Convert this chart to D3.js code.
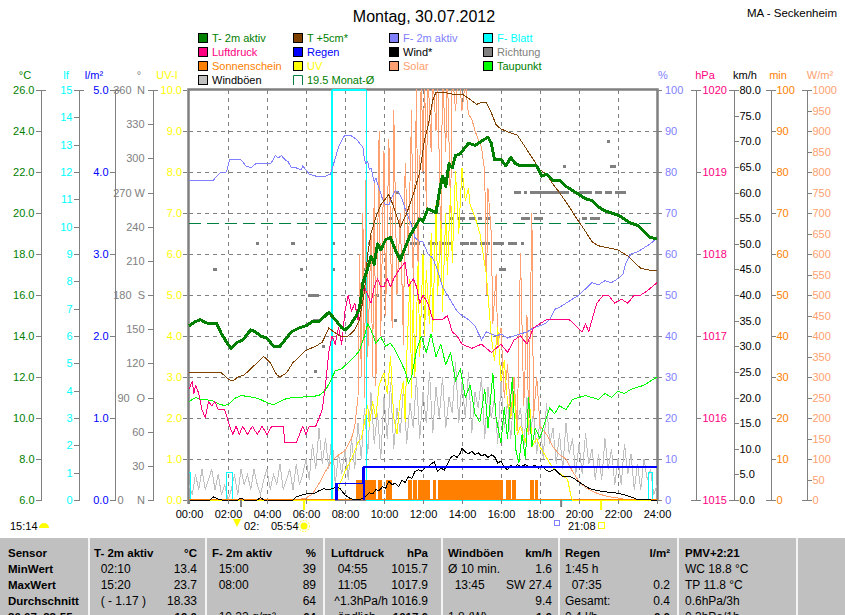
<!DOCTYPE html>
<html>
<head>
<meta charset="utf-8">
<script src="https://cdn.jsdelivr.net/npm/d3@7"></script>
<style>
  body { margin: 0; background: #fff; }
  svg { display: block; font-family: "Liberation Sans", Arial, sans-serif; }
  .pre { white-space: pre; }
</style>
</head>
<body>
<div id="chart"></div>
<script>
// ---- data ----
const chartTitle = 'Montag, 30.07.2012';
const stationName = 'MA - Seckenheim';
const monthAverage = 19.5;

const temp2m = [
  ['00:00', 14.5], ['00:20', 14.7], ['00:35', 14.8], ['00:45', 14.7], ['01:00', 14.6], ['01:25', 14.6],
  ['01:40', 14.1], ['02:00', 13.6], ['02:10', 13.4], ['02:30', 13.7], ['02:45', 13.8], ['03:00', 14.1],
  ['03:10', 14.3], ['03:25', 14.2], ['03:40', 14.0], ['04:00', 13.9], ['04:20', 13.5], ['04:40', 13.5],
  ['05:00', 13.9], ['05:15', 14.2], ['05:40', 14.4], ['06:00', 14.5], ['06:20', 14.7], ['06:40', 14.7],
  ['07:00', 15.0], ['07:10', 15.15], ['07:30', 14.8], ['07:50', 14.4], ['08:00', 14.3], ['08:15', 14.5],
  ['08:35', 15.0], ['08:45', 15.4], ['08:55', 16.6], ['09:10', 17.3], ['09:20', 17.9], ['09:30', 17.5],
  ['09:40', 18.5], ['09:50', 18.2], ['10:05', 18.7], ['10:20', 18.8], ['10:35', 18.2], ['10:50', 17.7],
  ['11:05', 18.3], ['11:20', 18.9], ['11:35', 19.3], ['11:50', 19.7], ['12:00', 19.6], ['12:15', 20.2],
  ['12:30', 20.1], ['12:40', 20.0], ['12:50', 21.0], ['13:00', 21.8], ['13:10', 21.3], ['13:20', 22.4],
  ['13:30', 22.2], ['13:40', 22.8], ['13:55', 22.9], ['14:10', 23.2], ['14:20', 23.4], ['14:40', 23.3],
  ['15:00', 23.5], ['15:20', 23.7], ['15:30', 23.4], ['15:40', 22.6], ['16:00', 22.6], ['16:15', 22.3],
  ['16:30', 22.7], ['16:45', 22.4], ['17:00', 22.3], ['17:30', 22.3], ['17:50', 22.3], ['18:05', 21.8],
  ['18:20', 21.9], ['18:40', 21.6], ['19:00', 21.6], ['19:20', 21.3], ['19:40', 21.1], ['20:00', 20.9],
  ['20:20', 20.7], ['20:40', 20.6], ['21:00', 20.3], ['21:20', 20.1], ['21:40', 20.0], ['22:00', 19.9],
  ['22:20', 19.7], ['22:40', 19.5], ['23:00', 19.4], ['23:20', 19.1], ['23:40', 18.8], ['24:00', 18.75]
];

const temp5cm = [
  ['00:00', 12.2], ['01:40', 12.2], ['02:00', 11.9], ['02:15', 11.8], ['02:30', 12.0], ['02:50', 12.1],
  ['03:10', 12.4], ['03:30', 12.7], ['03:50', 13.0], ['04:10', 12.7], ['04:30', 12.1], ['04:40', 12.0],
  ['05:00', 12.2], ['05:20', 12.7], ['05:40', 13.0], ['06:00', 13.3], ['06:30', 13.5], ['06:50', 13.7],
  ['07:05', 14.2], ['07:10', 14.4], ['07:25', 14.2], ['07:45', 14.0], ['08:10', 14.0], ['08:30', 14.3],
  ['08:45', 14.8], ['09:00', 16.2], ['09:10', 18.0], ['09:20', 19.0], ['09:35', 19.8], ['09:50', 20.4],
  ['10:15', 20.9], ['10:30', 20.3], ['10:50', 19.3], ['11:10', 20.0], ['11:30', 20.9], ['11:50', 22.0],
  ['12:05', 23.6], ['12:15', 24.2], ['12:30', 25.5], ['12:40', 25.9], ['13:00', 25.9], ['13:30', 25.8],
  ['14:00', 25.8], ['14:20', 25.6], ['14:45', 25.3], ['15:00', 25.4], ['15:15', 25.4], ['15:30', 24.9],
  ['15:45', 24.3], ['16:00', 24.1], ['16:30', 23.9], ['16:50', 23.8], ['17:15', 23.2], ['17:40', 22.6],
  ['18:00', 22.1], ['18:20', 21.9], ['18:40', 21.4], ['19:00', 21.0], ['19:30', 20.3], ['19:50', 19.8],
  ['20:20', 19.1], ['20:40', 18.6], ['21:00', 18.4], ['21:30', 18.3], ['22:00', 18.2], ['22:30', 17.9],
  ['22:50', 17.6], ['23:10', 17.3], ['23:40', 17.2], ['24:00', 17.2]
];

const humidity = [
  ['00:00', 78], ['01:15', 78], ['01:25', 79], ['01:40', 80], ['01:55', 80], ['02:05', 83], ['02:40', 83],
  ['02:55', 81.5], ['03:10', 81], ['03:25', 82], ['03:40', 82], ['04:10', 82], ['04:20', 83], ['04:25', 84],
  ['04:35', 83.5], ['04:45', 84], ['04:55', 83], ['05:05', 82.5], ['05:15', 81], ['05:30', 81], ['05:45', 80.5],
  ['05:50', 81.5], ['06:00', 80.5], ['06:10', 79.5], ['06:30', 79], ['07:00', 79], ['07:15', 79.5],
  ['07:25', 82], ['07:40', 86], ['07:55', 88.5], ['08:00', 89], ['08:20', 88.8], ['08:35', 88], ['08:45', 87],
  ['08:55', 86], ['09:00', 83], ['09:05', 82], ['09:10', 82.5], ['09:15', 80.5], ['09:20', 81], ['09:30', 77.5],
  ['09:35', 78.5], ['09:45', 76], ['09:55', 73.5], ['10:05', 72], ['10:15', 72], ['10:25', 74], ['10:35', 75.5],
  ['10:45', 75], ['10:55', 73.5], ['11:05', 71], ['11:15', 69], ['11:25', 67], ['11:35', 64], ['11:50', 63],
  ['12:00', 63], ['12:15', 60], ['12:30', 59], ['12:45', 56], ['13:00', 52], ['13:15', 50], ['13:30', 48],
  ['13:45', 46], ['14:00', 45], ['14:20', 44], ['14:40', 42.5], ['15:00', 39], ['15:15', 41], ['15:30', 40.5],
  ['15:45', 40], ['16:00', 40.5], ['16:20', 39.5], ['16:40', 40], ['17:00', 40.5], ['17:20', 41], ['17:40', 42],
  ['18:00', 42.5], ['18:15', 43], ['18:30', 44], ['18:45', 46.5], ['19:00', 47], ['19:20', 48], ['19:40', 49],
  ['20:00', 50], ['20:20', 51.5], ['20:40', 53], ['21:00', 52.5], ['21:20', 53.5], ['21:40', 53], ['22:00', 54],
  ['22:15', 55], ['22:25', 58], ['22:40', 60], ['23:00', 60.5], ['23:20', 61.5], ['23:40', 62.5], ['24:00', 64]
];

const pressure = [
  ['00:00', 1016.35], ['00:10', 1016.45], ['00:15', 1016.3], ['00:20', 1016.4], ['00:30', 1016.3],
  ['00:40', 1016.1], ['00:50', 1016.0], ['01:00', 1016.2], ['01:10', 1016.15], ['01:20', 1016.2],
  ['01:30', 1016.1], ['01:50', 1016.1], ['02:05', 1015.9], ['02:15', 1015.8], ['02:25', 1015.9],
  ['02:35', 1015.8], ['02:45', 1015.9], ['03:00', 1015.8], ['03:15', 1015.9], ['03:30', 1015.8],
  ['03:45', 1015.9], ['04:00', 1015.8], ['04:15', 1015.9], ['04:30', 1015.9], ['04:50', 1015.9],
  ['04:55', 1015.7], ['05:30', 1015.7], ['05:40', 1015.8], ['05:50', 1015.9], ['06:00', 1015.8],
  ['06:10', 1015.9], ['06:30', 1015.9], ['06:50', 1016.1], ['07:00', 1016.4], ['07:10', 1016.8],
  ['07:20', 1017.0], ['07:30', 1016.9], ['07:40', 1017.1], ['07:50', 1016.9], ['08:00', 1017.3],
  ['08:10', 1017.5], ['08:20', 1017.3], ['08:30', 1017.4], ['08:40', 1017.2], ['08:50', 1017.5],
  ['09:00', 1017.6], ['09:10', 1017.5], ['09:20', 1017.4], ['09:30', 1017.6], ['09:40', 1017.7],
  ['09:50', 1017.6], ['10:00', 1017.6], ['10:10', 1017.7], ['10:20', 1017.6], ['10:30', 1017.7],
  ['10:45', 1017.8], ['11:05', 1017.9], ['11:15', 1017.6], ['11:30', 1017.7], ['11:40', 1017.6],
  ['11:50', 1017.4], ['12:00', 1017.5], ['12:15', 1017.4], ['12:30', 1017.2], ['12:45', 1017.2],
  ['13:00', 1017.2], ['13:15', 1017.25], ['13:30', 1017.05], ['13:45', 1017.0], ['14:00', 1016.9],
  ['14:30', 1016.85], ['15:00', 1016.9], ['15:30', 1016.8], ['16:00', 1016.9], ['16:20', 1016.8],
  ['16:40', 1016.95], ['17:00', 1017.0], ['17:20', 1016.9], ['17:40', 1017.1], ['18:00', 1017.15],
  ['18:20', 1017.2], ['19:00', 1017.2], ['19:30', 1017.2], ['20:10', 1017.05], ['20:20', 1017.15],
  ['20:30', 1017.05], ['20:40', 1017.2], ['20:55', 1017.4], ['21:15', 1017.5], ['21:30', 1017.5],
  ['21:50', 1017.4], ['22:10', 1017.45], ['22:30', 1017.4], ['22:50', 1017.5], ['23:10', 1017.5],
  ['23:30', 1017.55], ['23:45', 1017.6], ['24:00', 1017.65]
];

const dewPoint = [
  ['00:00', 10.8], ['00:20', 11.0], ['00:35', 10.9], ['00:50', 10.9], ['01:10', 10.85], ['01:30', 10.7],
  ['01:50', 10.6], ['02:05', 10.7], ['02:20', 10.95], ['02:40', 11.1], ['03:00', 11.05], ['03:20', 11.0],
  ['03:40', 10.9], ['04:00', 10.75], ['04:20', 10.65], ['04:40', 10.8], ['05:00', 10.95], ['05:20', 11.0],
  ['05:40', 11.0], ['06:00', 11.05], ['06:20', 11.05], ['06:40', 11.1], ['07:00', 11.35], ['07:15', 11.8],
  ['07:30', 12.3], ['07:50', 12.4], ['08:10', 12.7], ['08:30', 13.0], ['08:45', 13.3], ['09:00', 14.0],
  ['09:10', 14.6], ['09:20', 14.3], ['09:35', 13.65], ['09:50', 13.95], ['10:05', 13.5], ['10:20', 13.65],
  ['10:35', 13.3], ['10:50', 12.8], ['11:05', 12.3], ['11:15', 11.7], ['11:25', 12.0], ['11:40', 13.3],
  ['11:55', 14.0], ['12:10', 13.2], ['12:25', 14.1], ['12:40', 13.0], ['12:55', 13.6], ['13:10', 12.6],
  ['13:25', 13.2], ['13:40', 11.8], ['13:55', 12.4], ['14:10', 11.0], ['14:25', 11.6], ['14:40', 10.2],
  ['14:55', 9.8], ['15:10', 11.4], ['15:20', 9.5], ['15:35', 12.2], ['15:45', 10.0], ['16:00', 8.8],
  ['16:10', 10.5], ['16:20', 9.0], ['16:35', 12.0], ['16:45', 8.5], ['16:55', 7.8], ['17:05', 9.2],
  ['17:15', 8.0], ['17:25', 11.0], ['17:35', 8.6], ['17:45', 9.5], ['18:00', 9.0], ['18:15', 9.8],
  ['18:30', 10.5], ['18:45', 10.2], ['19:00', 10.6], ['19:20', 10.4], ['19:40', 10.9], ['20:00', 11.0],
  ['20:20', 11.1], ['20:40', 11.0], ['21:00', 10.9], ['21:20', 11.2], ['21:40', 11.0], ['22:00', 11.3],
  ['22:20', 11.2], ['22:40', 11.4], ['23:00', 11.5], ['23:20', 11.6], ['23:40', 11.8], ['24:00', 12.0]
];

const solar = [
  ['00:00', 0], ['05:30', 0], ['06:00', 5], ['06:20', 15], ['06:40', 40], ['07:00', 70], ['07:20', 95],
  ['07:40', 110], ['08:00', 120], ['08:10', 135], ['08:20', 150], ['08:30', 180], ['08:40', 250],
  ['08:45', 600], ['08:50', 300], ['08:55', 700], ['09:00', 250], ['09:05', 820], ['09:10', 350],
  ['09:20', 650], ['09:25', 300], ['09:30', 780], ['09:35', 280], ['09:45', 900], ['09:50', 400],
  ['10:00', 850], ['10:05', 450], ['10:15', 880], ['10:25', 420], ['10:30', 950], ['10:40', 500],
  ['10:50', 700], ['11:00', 380], ['11:05', 820], ['11:15', 600], ['11:25', 950], ['11:30', 500],
  ['11:40', 1000], ['11:45', 550], ['11:55', 1050], ['12:00', 800], ['12:05', 1050], ['12:10', 700],
  ['12:15', 1050], ['12:25', 850], ['12:30', 1050], ['12:40', 900], ['12:45', 1050], ['12:55', 600],
  ['13:00', 1050], ['13:10', 850], ['13:15', 1050], ['13:25', 700], ['13:30', 1050], ['13:40', 950],
  ['13:50', 1050], ['14:00', 950], ['14:10', 1020], ['14:20', 940], ['14:30', 930], ['14:40', 900],
  ['14:50', 880], ['15:00', 860], ['15:10', 800], ['15:15', 500], ['15:20', 760], ['15:30', 650],
  ['15:35', 430], ['15:45', 550], ['15:50', 380], ['16:00', 420], ['16:10', 250], ['16:20', 330],
  ['16:30', 200], ['16:40', 300], ['16:50', 170], ['17:00', 600], ['17:10', 230], ['17:20', 450],
  ['17:25', 160], ['17:35', 700], ['17:40', 200], ['17:50', 300], ['18:00', 180], ['18:20', 160],
  ['18:40', 130], ['19:00', 110], ['19:20', 100], ['19:40', 70], ['20:00', 45], ['20:20', 30],
  ['20:40', 22], ['21:00', 15], ['21:30', 8], ['22:00', 5], ['22:30', 0], ['24:00', 0]
];

const uvIndex = [
  ['00:00', 0], ['07:30', 0], ['07:45', 0.4], ['08:00', 0.7], ['08:20', 1.0], ['08:40', 1.4], ['08:50', 1.5],
  ['09:00', 1.9], ['09:10', 2.3], ['09:15', 1.8], ['09:25', 2.4], ['09:35', 2.0], ['09:45', 2.8], ['10:00', 3.1],
  ['10:10', 2.6], ['10:20', 3.5], ['10:30', 2.0], ['10:40', 1.6], ['10:50', 2.5], ['11:00', 2.9], ['11:05', 1.9],
  ['11:10', 3.5], ['11:20', 5.4], ['11:25', 2.5], ['11:30', 5.0], ['11:35', 3.0], ['11:45', 5.8], ['11:50', 3.5],
  ['12:00', 6.0], ['12:05', 4.0], ['12:10', 5.6], ['12:20', 4.3], ['12:25', 6.5], ['12:30', 4.1], ['12:40', 7.2],
  ['12:45', 5.0], ['12:55', 6.8], ['13:00', 4.6], ['13:10', 7.0], ['13:15', 5.5], ['13:25', 7.6], ['13:30', 5.8],
  ['13:40', 8.0], ['13:50', 6.5], ['14:00', 8.1], ['14:10', 7.3], ['14:20', 7.6], ['14:25', 7.2], ['14:40', 6.9],
  ['14:55', 6.5], ['15:05', 6.0], ['15:15', 5.5], ['15:20', 5.0], ['15:30', 4.0], ['15:40', 3.4], ['15:50', 4.2],
  ['16:00', 2.9], ['16:10', 3.4], ['16:20', 2.4], ['16:30', 2.0], ['16:40', 2.6], ['16:50', 1.6], ['17:00', 1.8],
  ['17:15', 1.4], ['17:30', 2.2], ['17:35', 1.3], ['17:50', 1.5], ['18:00', 1.3], ['18:15', 1.1], ['18:30', 0.9],
  ['18:50', 0.7], ['19:10', 0.6], ['19:25', 0.5], ['19:35', 0.1], ['19:40', 0], ['24:00', 0]
];

const wind = [
  ['00:00', 0], ['01:05', 0], ['01:15', 0.6], ['01:25', 0.3], ['01:40', 0], ['02:30', 0], ['02:40', 0.4],
  ['02:50', 0], ['03:30', 0], ['03:40', 0.5], ['03:50', 0], ['05:20', 0], ['05:30', 0.6], ['05:50', 1.0],
  ['06:10', 1.3], ['06:25', 1.3], ['06:40', 1.8], ['06:55', 2.2], ['07:10', 2.0], ['07:25', 2.3], ['07:35', 2.7],
  ['07:45', 2.2], ['08:00', 1.0], ['08:10', 0.5], ['08:25', 0.1], ['08:50', 0.2], ['09:05', 0.8], ['09:15', 1.4],
  ['09:25', 1.2], ['09:35', 2.0], ['09:45', 1.8], ['09:55', 2.6], ['10:05', 2.3], ['10:15', 3.6], ['10:25', 3.0],
  ['10:35', 3.3], ['10:45', 2.6], ['10:55', 3.9], ['11:05', 3.4], ['11:15', 4.5], ['11:25', 4.2], ['11:35', 5.5],
  ['11:45', 5.9], ['11:55', 5.6], ['12:05', 6.2], ['12:15', 6.5], ['12:25', 7.0], ['12:35', 7.5], ['12:45', 5.5],
  ['12:55', 6.3], ['13:05', 5.8], ['13:15', 7.0], ['13:25', 8.2], ['13:35', 8.8], ['13:45', 8.3], ['13:55', 9.2],
  ['14:00', 10.1], ['14:10', 9.4], ['14:20', 9.0], ['14:30', 9.5], ['14:40', 8.9], ['14:50', 9.2], ['15:00', 8.6],
  ['15:10', 8.9], ['15:20', 8.3], ['15:30', 8.8], ['15:40', 8.5], ['15:50', 7.2], ['16:00', 7.6], ['16:10', 6.4],
  ['16:20', 5.9], ['16:30', 6.8], ['16:40', 6.2], ['16:50', 6.9], ['17:00', 6.5], ['17:15', 6.9], ['17:30', 6.4],
  ['17:45', 6.8], ['17:55', 6.2], ['18:05', 6.7], ['18:20', 5.8], ['18:30', 5.5], ['18:45', 6.0], ['19:00', 5.1],
  ['19:10', 4.5], ['19:30', 4.6], ['19:45', 4.2], ['20:00', 3.5], ['20:15', 2.9], ['20:30', 2.3], ['20:45', 2.0],
  ['21:00', 1.8], ['21:15', 1.6], ['21:40', 1.5], ['22:00', 1.3], ['22:20', 1.0], ['22:40', 0.6], ['23:00', 0.1],
  ['23:20', 0.2], ['23:40', 0], ['24:00', 0]
];

// gusts in km/h, one value every 10 minutes from 00:00 to 24:00
const gustStepMinutes = 10;
const gusts = [
  3, 1, 5, 2, 6, 2,   4, 6, 2, 5, 1, 3,   0, 2, 5, 1, 6, 3,   5, 2, 6, 3, 1, 4,
  6, 2, 5, 3, 7, 2,   4, 6, 2, 7, 3, 5,   8, 4, 11, 6, 14, 7,  12, 6, 13, 3, 9, 5,
  10, 4, 12, 6, 15, 8,  18, 9, 21, 11, 17, 8,  20, 12, 23, 10, 18, 13,  22, 11, 19, 14, 24, 12,
  21, 15, 25, 13, 22, 16,  24, 14, 20, 17, 27, 15,  23, 16, 25, 13, 21, 18,  24, 12, 22, 16, 20, 11,
  23, 14, 19, 12, 21, 15,  18, 10, 20, 13, 17, 9,  16, 8, 19, 11, 14, 7,  13, 6, 15, 9, 12, 5,
  11, 5, 13, 7, 10, 4,  9, 4, 12, 6, 10, 3,  8, 3, 11, 5, 9, 2,  7, 2, 8, 4, 6, 1,  3
];

// leaf wetness, value holds until the next entry
const leafWetness = [
  ['00:00', 1], ['00:05', 0], ['01:55', 1], ['02:15', 0], ['07:20', 15], ['09:05', 0],
  ['23:35', 1], ['23:45', 0], ['24:00', 0]
];

const rainEventTimes = ['07:30', '08:55'];
const rainEventAmounts = [0.2, 0.2];

// sunshine minutes per 5 minute slot: full sun periods
const sunshineMinutes = 5;
const sunshinePeriods = [
  ['08:35', '09:35'], ['09:40', '09:55'], ['10:05', '10:25'], ['11:15', '11:25'], ['11:30', '11:40'],
  ['11:45', '12:20'], ['12:30', '12:40'], ['12:45', '16:05'], ['16:15', '16:30'], ['16:35', '16:45'],
  ['17:30', '17:40'], ['17:45', '17:55']
];

// wind direction (degrees) over time spans
const direction = [
  ['01:15', '01:25', 202.5], ['03:25', '03:35', 225], ['05:15', '05:25', 225], ['05:40', '05:50', 202.5],
  ['06:05', '06:40', 180], ['06:20', '06:40', 157.5], ['06:25', '06:30', 112.5], ['06:50', '06:55', 135],
  ['07:20', '07:25', 225], ['07:20', '07:25', 202.5], ['08:55', '09:00', 202.5], ['09:10', '09:15', 225],
  ['09:05', '09:10', 157.5], ['09:35', '09:40', 180], ['10:15', '10:20', 247.5], ['10:30', '10:35', 157.5],
  ['10:35', '10:45', 270], ['11:20', '11:50', 225], ['11:45', '11:55', 247.5],
  ['12:15', '12:45', 225], ['12:55', '13:30', 225], ['13:55', '14:20', 225], ['14:25', '14:45', 225],
  ['14:55', '15:25', 225], ['15:35', '16:10', 225], ['16:20', '16:50', 225], ['17:00', '17:05', 225],
  ['13:20', '13:35', 247.5], ['13:45', '14:10', 247.5], ['14:20', '14:40', 247.5], ['14:50', '15:00', 247.5],
  ['15:15', '15:30', 247.5], ['17:00', '17:30', 247.5], ['17:40', '18:10', 247.5], ['20:10', '20:25', 247.5],
  ['20:35', '21:05', 247.5],
  ['16:40', '17:00', 270], ['17:10', '17:20', 270], ['17:30', '19:30', 270], ['19:40', '19:50', 270],
  ['20:00', '20:40', 270], ['20:50', '21:10', 270], ['21:20', '21:40', 270], ['21:50', '22:25', 270],
  ['15:55', '16:15', 202.5], ['19:10', '19:15', 292.5], ['21:35', '21:55', 292.5], ['21:25', '21:30', 315]
];

// tick values of the axes
const tempTicks = d3.range(6, 27, 2);
const leafTicks = d3.range(0, 16, 1);
const rainTicks = d3.range(0, 6, 1);
const directionTicks = d3.range(0, 361, 30);
const directionLetters = { 0: 'N', 90: 'O', 180: 'S', 270: 'W', 360: 'N' };
const uvTicks = d3.range(0, 11, 1);
const humidityTicks = d3.range(0, 101, 10);
const pressureTicks = d3.range(1015, 1021, 1);
const windTicks = d3.range(0, 81, 5);
const minuteTicks = d3.range(0, 101, 10);
const solarTicks = d3.range(0, 1001, 50);
const hourTicks = d3.range(0, 25, 2);

const legendColumns = [
  ['temp2m', 'pressure', 'sunshine', 'gusts'],
  ['temp5cm', 'rain', 'uv', 'monthAvg'],
  ['humidity', 'wind', 'solar'],
  ['leaf', 'direction', 'dewPoint']
];
const seriesNames = {
  temp2m: 'T- 2m aktiv', temp5cm: 'T +5cm*', humidity: 'F- 2m aktiv', leaf: 'F- Blatt',
  pressure: 'Luftdruck', rain: 'Regen', wind: 'Wind*', direction: 'Richtung',
  sunshine: 'Sonnenschein', uv: 'UV', solar: 'Solar', dewPoint: 'Taupunkt',
  gusts: 'Windböen', monthAvg: monthAverage + ' Monat-Ø'
};

const sunMoonTimes = { moonLeft: '15:14', moonSet: '02:', sunrise: '05:54', sunset: '21:08' };
const moonTicks = ['02:40', '19:05'];
const sunTicks = ['05:54', '21:08'];

const tableRows = [
  ['Sensor', ['T- 2m aktiv', '°C'], ['F- 2m aktiv', '%'], ['Luftdruck', 'hPa'], ['Windböen', 'km/h'], ['Regen', 'l/m²'], ['PMV+2:21', '']],
  ['MinWert', ['  02:10', '13.4'], ['  15:00', '39'], ['  04:55', '1015.7'], ['Ø 10 min.', '1.6'], ['1:45 h', ''], ['WC 18.8 °C', '']],
  ['MaxWert', ['  15:20', '23.7'], ['  08:00', '89'], ['  11:05', '1017.9'], ['  13:45', 'SW 27.4'], ['  07:35', '0.2'], ['TP 11.8 °C', '']],
  ['Durchschnitt', ['  ( - 1.17 )', '18.33'], ['', '64'], [' ^1.3hPa/h', '1016.9'], ['', '9.4'], ['Gesamt:', '0.4'], ['0.6hPa/3h', '']],
  ['30.07. 23:55', ['', '19.0'], ['  10.22 g/m³', '64'], ['  ändlich', '1017.6'], ['1.8 (W)', '1.6'], ['0.4 l/h', '0.0'], ['0.3hPa/1h', '']]
];

// ---- styles ----
const seriesColor = {
  temp2m: '#008000', temp5cm: '#804000', humidity: '#8080ff', leaf: '#00ffff',
  pressure: '#ff0080', rain: '#0000ff', wind: '#000000', direction: '#808080',
  sunshine: '#ff8000', uv: '#ffff00', solar: '#ffa070', dewPoint: '#00ff00',
  gusts: '#c0c0c0', monthAvg: '#008040'
};
const legendTextColor = { temp5cm: '#008000', gusts: '#000000', dewPoint: '#008000', monthAvg: '#008000' };

const toHours = (s) => {
  const [h, m] = s.split(':').map(Number);
  return h + m / 60;
};

const chart = {
  width: 845,
  height: 615,
  plot: { left: 189, right: 657, top: 90, bottom: 500 },
  axisGray: '#808080',

  init() {
    this.svg = d3.select('#chart').append('svg')
      .attr('width', this.width)
      .attr('height', this.height);
    this.makeScales();
    this.drawHeader();
    this.drawLegend();
    this.drawGrid();
    this.drawFrame();
    this.drawSeries();
    this.drawAxes();
    this.drawTimeAxis();
    this.drawTable();
  },

  makeScales() {
    const { left, right, top, bottom } = this.plot;
    const y = (lo, hi) => d3.scaleLinear().domain([lo, hi]).range([bottom, top]);
    this.x = d3.scaleLinear().domain([0, 24]).range([left, right]);
    this.yTemp = y(6, 26);
    this.yLeaf = y(0, 15);
    this.yRain = y(0, 5);
    this.yDir = y(0, 360);
    this.yUv = y(0, 10);
    this.yHum = y(0, 100);
    this.yPress = y(1015, 1020);
    this.yWind = y(0, 80);
    this.yMin = y(0, 100);
    this.ySolar = y(0, 1000);
  },

  drawHeader() {
    this.svg.append('text')
      .attr('x', 424).attr('y', 22)
      .attr('text-anchor', 'middle')
      .attr('font-size', 16)
      .text(chartTitle);
    this.svg.append('text')
      .attr('x', 837).attr('y', 17)
      .attr('text-anchor', 'end')
      .attr('font-size', 11.5)
      .text(stationName);

    const titles = [
      ['°C', 25, '#008000'], ['lf', 66, '#00ffff'], ['l/m²', 94, '#0000ff'], ['°', 139, '#808080'],
      ['UV-I', 167, '#ffff00'], ['%', 663, '#8080ff'], ['hPa', 705, '#ff0080'], ['km/h', 745, '#000000'],
      ['min', 778, '#ff8000'], ['W/m²', 820, '#ffa070']
    ];
    this.svg.append('g').selectAll('text')
      .data(titles)
      .join('text')
      .attr('x', (d) => d[1])
      .attr('y', 79)
      .attr('text-anchor', 'middle')
      .attr('font-size', 11)
      .attr('fill', (d) => d[2])
      .text((d) => d[0]);
  },

  drawLegend() {
    const colX = [198, 293, 389, 483];
    const rowY = [38, 52, 66, 80];
    const g = this.svg.append('g');
    legendColumns.forEach((keys, c) => {
      keys.forEach((key, r) => {
        const bx = colX[c];
        const cy = rowY[r];
        if (key === 'monthAvg') {
          g.append('path')
            .attr('d', `M${bx + 0.5},${cy + 5}V${cy - 4.5}H${bx + 9.5}V${cy + 5}`)
            .attr('fill', 'none')
            .attr('stroke', seriesColor.monthAvg);
        } else {
          g.append('rect')
            .attr('x', bx + 0.5).attr('y', cy - 4.5)
            .attr('width', 9).attr('height', 9)
            .attr('fill', seriesColor[key])
            .attr('stroke', '#000');
        }
        g.append('text')
          .attr('x', bx + 14).attr('y', cy + 4)
          .attr('font-size', 11)
          .attr('fill', legendTextColor[key] || seriesColor[key])
          .text(seriesNames[key]);
      });
    });
  },

  drawGrid() {
    const { left, right, top, bottom } = this.plot;
    const g = this.svg.append('g')
      .attr('stroke', this.axisGray)
      .attr('stroke-dasharray', '4,4')
      .attr('shape-rendering', 'crispEdges');
    g.selectAll('line.h')
      .data(tempTicks.slice(1, -1))
      .join('line')
      .attr('x1', left).attr('x2', right)
      .attr('y1', (d) => Math.round(this.yTemp(d)) + 0.5)
      .attr('y2', (d) => Math.round(this.yTemp(d)) + 0.5);
    g.selectAll('line.v')
      .data(hourTicks.slice(1, -1))
      .join('line')
      .attr('y1', top).attr('y2', bottom)
      .attr('x1', (d) => Math.round(this.x(d)) + 0.5)
      .attr('x2', (d) => Math.round(this.x(d)) + 0.5);
  },

  drawFrame() {
    const { left, right, top, bottom } = this.plot;
    this.svg.append('path')
      .attr('d', `M${left - 0.5},${bottom + 4}V${top - 0.5}H${right + 0.5}V${bottom + 1}`)
      .attr('fill', 'none')
      .attr('stroke', this.axisGray)
      .attr('stroke-width', 2.5);
    this.svg.append('line')
      .attr('x1', left).attr('x2', right)
      .attr('y1', bottom + 0.5).attr('y2', bottom + 0.5)
      .attr('stroke', this.axisGray);
  },

  linePath(data, scale, key, width = 1, curve = d3.curveLinear) {
    const gen = d3.line()
      .x((d) => this.x(toHours(d[0])))
      .y((d) => scale(d[1]))
      .curve(curve);
    this.series.append('path')
      .datum(data)
      .attr('d', gen)
      .attr('fill', 'none')
      .attr('stroke', seriesColor[key])
      .attr('stroke-width', width)
      .attr('stroke-linejoin', 'round');
  },

  drawSeries() {
    const { left, right, top, bottom } = this.plot;
    this.svg.append('clipPath').attr('id', 'plotClip')
      .append('rect')
      .attr('x', left - 1).attr('y', top - 1)
      .attr('width', right - left + 2).attr('height', bottom - top + 2);
    this.series = this.svg.append('g')
      .attr('clip-path', 'url(#plotClip)')
      .attr('shape-rendering', 'crispEdges');

    // monthly average
    this.series.append('line')
      .attr('x1', left).attr('x2', right)
      .attr('y1', this.yTemp(monthAverage)).attr('y2', this.yTemp(monthAverage))
      .attr('stroke', seriesColor.monthAvg)
      .attr('stroke-width', 1.5)
      .attr('stroke-dasharray', '12,6');

    // wind direction dashes
    this.series.append('g').selectAll('rect')
      .data(direction)
      .join('rect')
      .attr('x', (d) => this.x(toHours(d[0])))
      .attr('width', (d) => Math.max(3, this.x(toHours(d[1])) - this.x(toHours(d[0]))))
      .attr('y', (d) => this.yDir(d[2]) - 1.5)
      .attr('height', 3)
      .attr('fill', seriesColor.direction);

    // gusts
    this.series.append('path')
      .datum(gusts)
      .attr('d', d3.line()
        .x((d, i) => this.x(i * gustStepMinutes / 60))
        .y((d) => this.yWind(d)))
      .attr('fill', 'none')
      .attr('stroke', seriesColor.gusts);

    this.linePath(solar, this.ySolar, 'solar');
    this.linePath(leafWetness, this.yLeaf, 'leaf', 1.2, d3.curveStepAfter);

    // sunshine
    this.series.append('g').selectAll('rect')
      .data(sunshinePeriods)
      .join('rect')
      .attr('x', (d) => this.x(toHours(d[0])))
      .attr('width', (d) => this.x(toHours(d[1])) - this.x(toHours(d[0])))
      .attr('y', this.yMin(sunshineMinutes))
      .attr('height', this.yMin(0) - this.yMin(sunshineMinutes))
      .attr('fill', seriesColor.sunshine);
    this.series.append('line')
      .attr('x1', left).attr('x2', right)
      .attr('y1', this.yMin(0) - 0.5).attr('y2', this.yMin(0) - 0.5)
      .attr('stroke', seriesColor.sunshine);

    this.linePath(uvIndex, this.yUv, 'uv');
    this.linePath(dewPoint, this.yTemp, 'dewPoint');
    this.linePath(humidity, this.yHum, 'humidity');
    this.linePath(pressure, this.yPress, 'pressure');
    this.linePath(temp5cm, this.yTemp, 'temp5cm');
    this.linePath(wind, this.yWind, 'wind');

    // rain: event bars plus running total
    const totals = Array.from(d3.cumsum(rainEventAmounts));
    const rainSteps = rainEventTimes.map((t, i) => [t, totals[i]])
      .concat([['24:00', totals[totals.length - 1]]]);
    this.linePath(rainSteps, this.yRain, 'rain', 1.5, d3.curveStepAfter);
    this.series.append('g').selectAll('rect')
      .data(rainEventTimes)
      .join('rect')
      .attr('x', (d) => this.x(toHours(d)))
      .attr('width', 2.5)
      .attr('y', (d, i) => this.yRain(totals[i]))
      .attr('height', (d, i) => this.yRain(0) - this.yRain(totals[i]))
      .attr('fill', seriesColor.rain);

    this.linePath(temp2m, this.yTemp, 'temp2m', 3);
  },

  styleAxis(g, color, hideDomain) {
    g.attr('font-family', null).attr('font-size', 11);
    g.selectAll('.tick line').attr('stroke', this.axisGray);
    g.selectAll('.tick text').attr('fill', color);
    g.select('.domain').attr('stroke', hideDomain ? 'none' : this.axisGray);
    g.attr('shape-rendering', 'crispEdges');
  },

  addAxis(axis, xPos, color, hideDomain = false, caps = 'top') {
    const g = this.svg.append('g')
      .attr('transform', `translate(${xPos},0)`)
      .call(axis);
    this.styleAxis(g, color, hideDomain);
    if (!hideDomain) {
      const capY = caps === 'both' ? [this.plot.top, this.plot.bottom] : [this.plot.top];
      g.selectAll('line.cap')
        .data(capY)
        .join('line')
        .attr('class', 'cap')
        .attr('x1', -5).attr('x2', 5)
        .attr('y1', (d) => d + 0.5).attr('y2', (d) => d + 0.5)
        .attr('stroke', this.axisGray);
    }
    return g;
  },

  drawAxes() {
    const f1 = d3.format('.1f');
    const left = (scale, ticks, fmt, pad = 1) => d3.axisLeft(scale)
      .tickValues(ticks).tickFormat(fmt).tickSize(5).tickSizeOuter(0).tickPadding(pad);
    const right = (scale, ticks, fmt, pad = 1) => d3.axisRight(scale)
      .tickValues(ticks).tickFormat(fmt).tickSize(5).tickSizeOuter(0).tickPadding(pad);

    this.addAxis(left(this.yTemp, tempTicks, f1), 40.5, '#008000');
    this.addAxis(left(this.yLeaf, leafTicks, d3.format('d')), 78.5, '#00ffff');
    this.addAxis(left(this.yRain, rainTicks, f1), 114.5, '#0000ff');

    const dir = this.addAxis(left(this.yDir, directionTicks, (d) => d, 3), 152.5, '#808080');
    dir.selectAll('.tick').each(function (d) {
      const letter = directionLetters[d];
      if (!letter) return;
      const tick = d3.select(this);
      const num = tick.select('text').attr('text-anchor', 'start').attr('x', -35);
      const w = num.node().getComputedTextLength();
      if (-35 + w > -21) num.attr('x', -21 - w);
      tick.append('text')
        .attr('x', -7.5).attr('dy', '0.32em')
        .attr('text-anchor', 'end')
        .attr('fill', '#808080')
        .text(letter);
    });

    this.addAxis(left(this.yUv, uvTicks, f1).tickSize(4), 187, '#ffff00', true);

    this.addAxis(right(this.yHum, humidityTicks, d3.format('d'), 3), 657, '#8080ff', true);
    this.addAxis(right(this.yPress, pressureTicks, d3.format('d'), 2), 695.5, '#ff0080', false, 'both');
    this.addAxis(right(this.yWind, windTicks, f1), 733.5, '#000000', false, 'both');
    this.addAxis(right(this.yMin, minuteTicks, d3.format('d')), 770.5, '#ff8000', false, 'both');
    this.addAxis(right(this.ySolar, solarTicks, d3.format('d')), 806.5, '#ffa070', false, 'both');
  },

  drawTimeAxis() {
    const g = this.svg.append('g')
      .attr('transform', `translate(0,${this.plot.bottom})`)
      .call(d3.axisBottom(this.x)
        .tickValues(hourTicks)
        .tickFormat((h) => d3.format('02')(h) + ':00')
        .tickSize(4)
        .tickSizeOuter(0)
        .tickPadding(6));
    this.styleAxis(g, '#000000', true);

    this.svg.append('g').selectAll('line')
      .data(moonTicks)
      .join('line')
      .attr('x1', (d) => this.x(toHours(d))).attr('x2', (d) => this.x(toHours(d)))
      .attr('y1', this.plot.bottom).attr('y2', this.plot.bottom + 7)
      .attr('stroke', this.axisGray).attr('stroke-width', 2);
    this.svg.append('g').selectAll('line')
      .data(sunTicks)
      .join('line')
      .attr('x1', (d) => this.x(toHours(d))).attr('x2', (d) => this.x(toHours(d)))
      .attr('y1', this.plot.bottom).attr('y2', this.plot.bottom + 10)
      .attr('stroke', '#ffff00').attr('stroke-width', 2);

    // sun and moon notes
    const note = this.svg.append('g').attr('font-size', 11);
    note.append('text').attr('x', 10).attr('y', 530).text(sunMoonTimes.moonLeft);
    note.append('path').attr('d', 'M39,528A5,5 0 0 1 49,528Z').attr('fill', '#ffff00');
    note.append('path').attr('d', 'M233,519H241L237,527Z').attr('fill', '#ffff00');
    note.append('text').attr('x', 244).attr('y', 530).text(sunMoonTimes.moonSet);
    note.append('text').attr('x', 271).attr('y', 530).text(sunMoonTimes.sunrise);
    note.append('circle').attr('cx', 304).attr('cy', 526).attr('r', 3.5).attr('fill', '#ffff00');
    note.append('circle').attr('cx', 304).attr('cy', 526).attr('r', 5.5)
      .attr('fill', 'none').attr('stroke', '#ffff00').attr('stroke-dasharray', '1.5,1.5');
    note.append('rect').attr('x', 554.5).attr('y', 520.5).attr('width', 5).attr('height', 5)
      .attr('fill', 'none').attr('stroke', '#0000ff').attr('stroke-dasharray', '1,1');
    note.append('text').attr('x', 568).attr('y', 530).text(sunMoonTimes.sunset);
    note.append('rect').attr('x', 598.5).attr('y', 522.5).attr('width', 6).attr('height', 6)
      .attr('fill', 'none').attr('stroke', '#ffff00');
  },

  drawTable() {
    const top = 538;
    const g = this.svg.append('g');
    g.append('rect')
      .attr('x', 0).attr('y', top)
      .attr('width', this.width).attr('height', this.height - top)
      .attr('fill', '#c0c0c0');
    const seps = [88, 205, 323, 441, 558, 677, 796];
    g.selectAll('rect.sep')
      .data(seps)
      .join('rect')
      .attr('x', (d) => d).attr('y', top)
      .attr('width', 2).attr('height', this.height - top)
      .attr('fill', '#f4f4f4');

    const leftX = [94, 212, 331, 448, 565, 685];
    const rightX = [197, 316, 428, 552, 670, 790];
    const rowY = [557, 573, 589, 605, 621];
    tableRows.forEach((row, r) => {
      const bold = r === 0 || r === 4;
      g.append('text')
        .attr('x', 8).attr('y', rowY[r])
        .attr('font-size', 11.5)
        .attr('font-weight', 'bold')
        .text(row[0]);
      row.slice(1).forEach((cell, c) => {
        g.append('text')
          .attr('class', 'pre')
          .attr('x', leftX[c]).attr('y', rowY[r])
          .attr('font-size', r === 0 ? 11.5 : 12)
          .attr('font-family', r === 0 ? null : '"Liberation Sans Narrow", "Liberation Sans", Arial, sans-serif')
          .attr('font-weight', r === 0 ? 'bold' : null)
          .text(cell[0]);
        g.append('text')
          .attr('x', rightX[c]).attr('y', rowY[r])
          .attr('text-anchor', 'end')
          .attr('font-size', bold ? 11.5 : 12)
          .attr('font-family', bold ? null : '"Liberation Sans Narrow", "Liberation Sans", Arial, sans-serif')
          .attr('font-weight', bold ? 'bold' : null)
          .text(cell[1]);
      });
    });
  }
};

chart.init();
</script>
</body>
</html>
